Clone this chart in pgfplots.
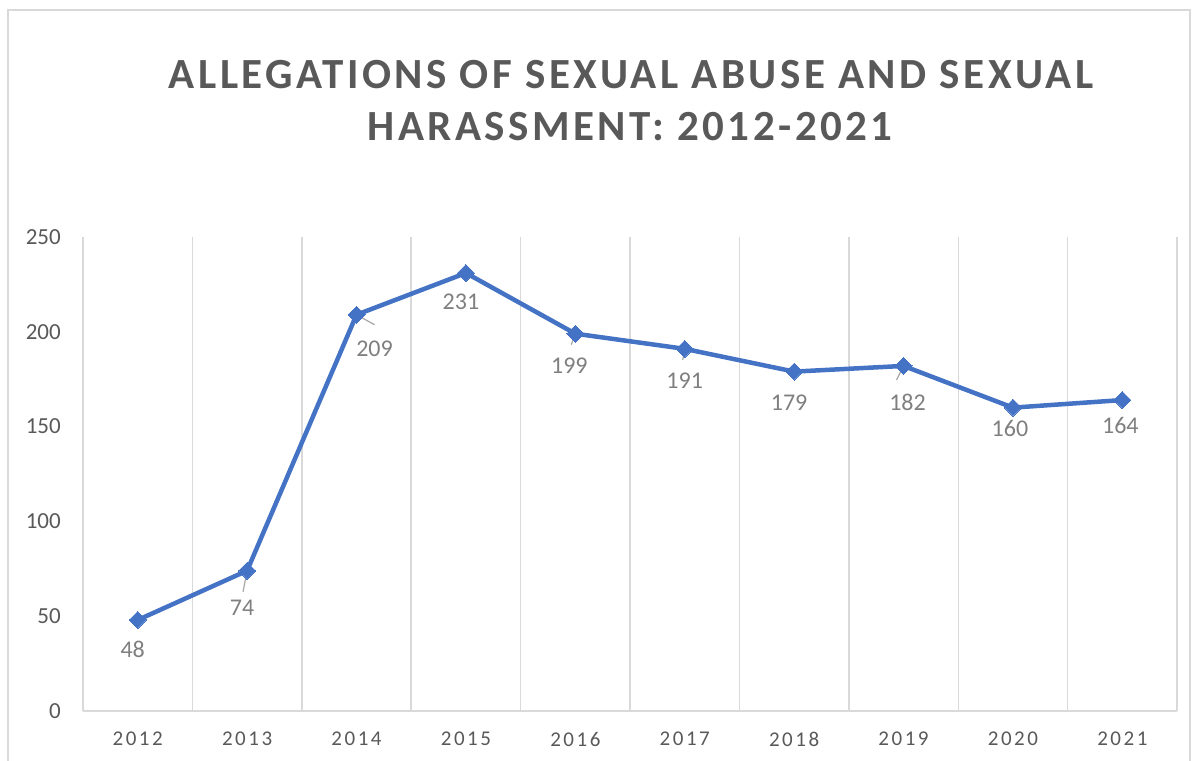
\documentclass[border=0pt]{standalone}
\usepackage{fontspec}
\setmainfont{Carlito}
\newfontfamily\titlefont[LetterSpace=8]{Carlito}
\newfontfamily\spacedfont[LetterSpace=12]{Carlito}
\usepackage{pgfplots}
\usepackage{pgfplotstable}
\pgfplotsset{compat=1.18}

\definecolor{series}{HTML}{4472C4}
\definecolor{gridgray}{HTML}{D9D9D9}
\definecolor{textgray}{HTML}{595959}
\definecolor{labelgray}{HTML}{7F7F7F}
\definecolor{leadgray}{HTML}{A6A6A6}

% x = category index, dx/dy = label offset in pt, u/v = leader line in data units
\pgfplotstableread{
x  y    dx  dy   u       v
0  48   -5  -29  0       0
1  74   -5  -37  -0.037  -11.1
2  209  18  -34  0.165   -5.3
3  231  -5  -29  0       0
4  199  -6  -32  -0.037  -5.8
5  191   0  -32  -0.018  -5.8
6  179  -5  -31  0       0
7  182   4  -36  -0.064  -7.4
8  160  -3  -21  0       0
9  164  -2  -25  0       0
}\allegations

\begin{document}
\begin{tikzpicture}[x=1pt,y=1pt]
\useasboundingbox (0,0) rectangle (1198,760);
\draw[gridgray, line width=1.3pt] (8,-20) rectangle (1190,750);

\node[anchor=base, inner sep=0pt, text=textgray]
  at (631,671.5) {\fontsize{43}{50}\titlefont\bfseries ALLEGATIONS OF SEXUAL ABUSE AND SEXUAL};
\node[anchor=base, inner sep=0pt, text=textgray]
  at (630,619.5) {\fontsize{43}{50}\titlefont\bfseries HARASSMENT: 2012-2021};

\begin{axis}[
    at={(83pt,49pt)}, anchor=south west,
    scale only axis,
    width=1094pt, height=474pt,
    xmin=-0.5, xmax=9.5,
    ymin=0, ymax=250,
    clip=false,
    axis line style={draw=none},
    major tick length=0pt, minor tick length=0pt,
    xtick={0,...,9},
    xticklabels={2012,2013,2014,2015,2016,2017,2018,2019,2020,2021},
    minor xtick={-0.5,0.5,...,9.5},
    xminorgrids=true,
    minor grid style={gridgray, line width=1.5pt},
    ytick={0,50,...,250},
    extra y ticks={0},
    extra y tick labels={},
    extra y tick style={grid=major, major grid style={gridgray, line width=1.5pt}},
    /pgf/number format/assume math mode=true,
    tick label style={text=textgray},
    yticklabel style={inner sep=0pt, anchor=east, xshift=-22pt,
        font=\fontsize{23}{28}\selectfont},
    xticklabel style={inner sep=0pt, anchor=north, yshift=-21pt,
        font=\fontsize{21}{26}\spacedfont},
]
\addplot[leadgray, line width=1.2pt, quiver={u=\thisrow{u}, v=\thisrow{v}}]
    table[x=x, y=y] {\allegations};
\addplot[series, line width=4.5pt, mark=square*, mark size=6pt,
    mark options={rotate=45, line width=0pt},
    visualization depends on={\thisrow{dx} \as \dx},
    visualization depends on={\thisrow{dy} \as \dy},
    nodes near coords,
    every node near coord/.style={anchor=center, inner sep=0pt,
        xshift=\dx pt, yshift=\dy pt, text=labelgray,
        font=\fontsize{24}{29}\selectfont},
] table[x=x, y=y] {\allegations};
\end{axis}
\end{tikzpicture}
\end{document}
